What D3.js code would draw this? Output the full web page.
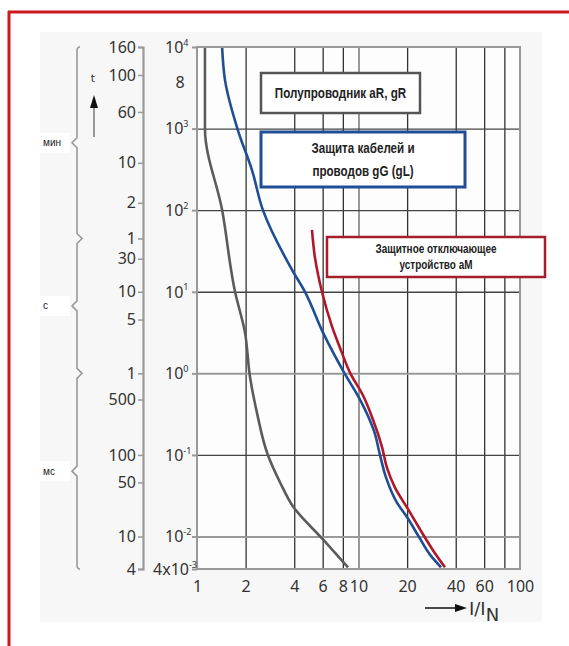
<!DOCTYPE html>
<html>
<head>
<meta charset="utf-8">
<script src="https://cdn.jsdelivr.net/npm/d3@7"></script>
<style>
  body { margin: 0; background: #fff; }
  svg { display: block; }
  .tick text { font-family: "Noto Sans", sans-serif; fill: #333; }
  .legend text { font-family: "Liberation Sans", Arial, sans-serif; font-weight: bold; fill: #222; }
</style>
</head>
<body>
<svg id="chart"></svg>
<script>
// multiples of rated current I/IN
const xTicks = [1, 2, 4, 6, 8, 10, 20, 40, 60, 100];
const xGrid = [2, 4, 6, 8, 10, 20, 40, 60, 80];
const xGridLight = [10];

// time in seconds
const yDecades = [1e3, 1e2, 1e1, 1e0, 1e-1, 1e-2];
const yGridLight = [1e0, 1e-2];
const yLabelExp = [4, 3, 2, 1, 0, -1, -2];

// outer time scale: label and position (in seconds) as printed
const timeLabels = ["160", "100", "60", "10", "2", "1", "30", "10", "5", "1", "500", "100", "50", "10", "4"];
const timeValues = [10000, 4540, 1600, 380, 123, 45, 25.4, 10, 4.56, 1, 0.478, 0.1, 0.046, 0.01, 0.004];

// unit groups on the brace
const unitNames = ["мин", "с", "мс"];
const unitFrom = [10000, 45, 1];
const unitTo = [45, 1, 0.004];

// curves [I/IN, t in s]
const semiconductor = [
  [1.12, 10000], [1.12, 1000], [1.43, 101], [1.72, 10], [1.98, 3.2], [2.13, 0.9],
  [2.35, 0.33], [2.75, 0.099], [3.27, 0.046], [3.93, 0.0234], [6.03, 0.0092], [8.61, 0.0042]
];
const cableGG = [
  [1.43, 10000], [1.49, 3950], [1.79, 960], [2.19, 310], [2.56, 100], [3.87, 18.7],
  [4.66, 10], [6.03, 3.16], [8.2, 1.0], [10.2, 0.48], [12.5, 0.194], [13.6, 0.099],
  [14.8, 0.053], [17.3, 0.026], [20, 0.0172], [23.6, 0.01], [27.7, 0.006], [32.4, 0.0042]
];
const motorAM = [
  [5.15, 57.5], [5.38, 26], [5.94, 10], [6.86, 3.74], [7.8, 1.9], [8.9, 1.0],
  [10.6, 0.55], [12.3, 0.27], [14.0, 0.124], [15.0, 0.07], [16.8, 0.04], [20.3, 0.0215],
  [24.7, 0.0112], [28.9, 0.0068], [34.3, 0.0042]
];

const series = [
  { name: "Полупроводник aR, gR", color: "#5b5b5b", values: semiconductor },
  { name: "Защита кабелей и проводов gG (gL)", color: "#1f4e96", values: cableGG },
  { name: "Защитное отключающее устройство aM", color: "#b0182a", values: motorAM }
];

const W = 569, H = 646;
const svg = d3.select("#chart").attr("width", W).attr("height", H);

const x = d3.scaleLog().domain([1, 100]).range([197, 520]);
const y = d3.scaleLog().domain([0.004, 10000]).range([569, 47]);
const [x0, x1] = x.range();
const [y0, y1] = y.range();

// page decoration
svg.append("rect").attr("x", 40).attr("y", 32).attr("width", 502).attr("height", 590).attr("fill", "#f7f7f7");
svg.append("line").attr("x1", 8).attr("x2", W).attr("y1", 12).attr("y2", 12).attr("stroke", "#d0161f").attr("stroke-width", 3);
svg.append("line").attr("x1", 9).attr("x2", 9).attr("y1", 11).attr("y2", H).attr("stroke", "#d0161f").attr("stroke-width", 3);

svg.append("rect").attr("x", x0).attr("y", y1).attr("width", x1 - x0).attr("height", y0 - y1).attr("fill", "#fdfdfd");

// gridlines
const gx = svg.append("g")
  .attr("transform", `translate(0,${y0})`)
  .call(d3.axisBottom(x).tickValues(xGrid).tickSize(-(y0 - y1)).tickFormat(""));
gx.select(".domain").remove();
gx.selectAll(".tick line")
  .attr("stroke", d => xGridLight.includes(d) ? "#9a9a9a" : "#333")
  .attr("stroke-width", d => xGridLight.includes(d) ? 2 : 1.3);

const gy = svg.append("g")
  .attr("transform", `translate(${x0},0)`)
  .call(d3.axisLeft(y).tickValues(yDecades).tickSize(-(x1 - x0)).tickFormat(""));
gy.select(".domain").remove();
gy.selectAll(".tick line")
  .attr("stroke", d => yGridLight.includes(d) ? "#9a9a9a" : "#444")
  .attr("stroke-width", d => yGridLight.includes(d) ? 2 : 1.3);

// curves
const line = d3.line()
  .x(d => x(d[0]))
  .y(d => y(d[1]))
  .curve(d3.curveMonotoneY);

series.forEach(s => {
  svg.append("path")
    .datum(s.values)
    .attr("d", line)
    .attr("fill", "none")
    .attr("stroke", s.color)
    .attr("stroke-width", 2.6);
});

// plot frame
svg.append("rect").attr("x", x0).attr("y", y1).attr("width", x1 - x0).attr("height", y0 - y1)
  .attr("fill", "none").attr("stroke", "#999").attr("stroke-width", 2);

// bottom axis labels
const ax = svg.append("g")
  .attr("transform", `translate(0,${y0})`)
  .call(d3.axisBottom(x).tickValues(xTicks).tickSize(0).tickPadding(12).tickFormat(d3.format("d")));
ax.select(".domain").remove();
ax.selectAll("text").style("font-size", "16px");

// inner decade axis (ticks on the frame)
const ay = svg.append("g")
  .attr("transform", `translate(${x0},0)`)
  .call(d3.axisLeft(y).tickValues(yLabelExp.map(e => Math.pow(10, e)).concat([0.004])).tickSize(5).tickFormat(""));
ay.select(".domain").remove();
ay.selectAll(".tick line").attr("stroke", "#999").attr("stroke-width", 2);

const decLabels = svg.append("g").attr("class", "tick");
yLabelExp.forEach(e => {
  const t = decLabels.append("text")
    .attr("x", 165).attr("y", y(Math.pow(10, e)))
    .attr("dy", "0.36em")
    .style("font-size", "16px");
  t.append("tspan").text("10");
  t.append("tspan").attr("dy", "-0.8em").style("font-size", "9px").text(e);
});
const small = decLabels.append("text")
  .attr("x", 197).attr("y", y(0.004)).attr("dy", "0.36em")
  .attr("text-anchor", "end").style("font-size", "16px");
small.append("tspan").text("4x10");
small.append("tspan").attr("dy", "-0.8em").style("font-size", "9px").text("-3");
decLabels.append("text")
  .attr("x", 180).attr("y", y(3730)).attr("dy", "0.36em")
  .attr("text-anchor", "middle").style("font-size", "16px").text("8");

// outer time axis
const at = svg.append("g")
  .attr("transform", "translate(143,0)")
  .call(d3.axisLeft(y).tickValues(timeValues).tickSize(5).tickPadding(2)
    .tickFormat((d, i) => timeLabels[i]));
at.select(".domain").attr("stroke", "#999").attr("stroke-width", 2.2);
at.selectAll(".tick line").attr("stroke", "#999").attr("stroke-width", 1.5);
at.selectAll("text").style("font-size", "16px");

// braces with unit names
const bx = 77;
let brace = `M${bx + 3},${y(unitFrom[0])} Q${bx},${y(unitFrom[0])} ${bx},${y(unitFrom[0]) + 4}`;
unitNames.forEach((u, i) => {
  const b = y(unitTo[i]);
  const m = y(Math.sqrt(unitFrom[i] * unitTo[i]));
  brace += ` L${bx},${m - 5} L${bx - 5},${m} L${bx},${m + 5}`;
  if (i < unitNames.length - 1) brace += ` L${bx},${b - 5} L${bx + 5},${b} L${bx},${b + 5}`;
  else brace += ` L${bx},${b - 4} Q${bx},${b} ${bx + 3},${b}`;
  svg.append("rect").attr("x", 40).attr("y", m - 10).attr("width", 30).attr("height", 20).attr("fill", "#fff");
  svg.append("text").attr("x", 43).attr("y", m).attr("dy", "0.35em")
    .style("font-family", "'Liberation Sans', Arial, sans-serif").style("font-size", "10px").attr("fill", "#222")
    .text(u);
});
svg.append("path").attr("d", brace).attr("fill", "none").attr("stroke", "#999").attr("stroke-width", 1.6);

// t arrow
svg.append("text").attr("x", 93).attr("y", 82).attr("text-anchor", "middle")
  .style("font-family", "'DejaVu Sans', sans-serif").style("font-size", "11px").attr("fill", "#333").text("t");
svg.append("line").attr("x1", 94).attr("x2", 94).attr("y1", 137).attr("y2", 104).attr("stroke", "#999").attr("stroke-width", 2);
svg.append("path").attr("d", "M94,95 L90,108 L98,108 Z").attr("fill", "#111");

// I/IN arrow
svg.append("line").attr("x1", 425).attr("x2", 458).attr("y1", 608).attr("y2", 608).attr("stroke", "#111").attr("stroke-width", 1.5);
svg.append("path").attr("d", "M467,608 L455,604 L455,612 Z").attr("fill", "#111");
const il = svg.append("text").attr("x", 469).attr("y", 615)
  .style("font-family", "'DejaVu Sans', sans-serif").style("font-size", "18px").attr("fill", "#333");
il.append("tspan").text("I/I");
il.append("tspan").attr("dy", "6").text("N");

// legend boxes
const boxes = [
  { x: 261, y: 73, w: 159, h: 40, stroke: "#555", sw: 2.5, fs: 14, gap: 0, lines: ["Полупроводник aR, gR"] },
  { x: 261, y: 132, w: 204, h: 55, stroke: "#1f4e96", sw: 3, fs: 14, gap: 23, lines: ["Защита кабелей и", "проводов gG (gL)"] },
  { x: 327, y: 237, w: 218, h: 40, stroke: "#a31f2b", sw: 2.5, fs: 12, gap: 16, lines: ["Защитное отключающее", "устройство aM"] }
];
const legend = svg.append("g").attr("class", "legend");
boxes.forEach(b => {
  legend.append("rect").attr("x", b.x).attr("y", b.y).attr("width", b.w).attr("height", b.h)
    .attr("fill", "#fff").attr("stroke", b.stroke).attr("stroke-width", b.sw);
  b.lines.forEach((l, i) => {
    const cy = b.y + b.h / 2 + (i - (b.lines.length - 1) / 2) * b.gap;
    legend.append("text")
      .attr("transform", `translate(${b.x + b.w / 2},${cy}) scale(0.83,1)`)
      .attr("dy", "0.35em")
      .attr("text-anchor", "middle")
      .style("font-size", b.fs + "px")
      .text(l);
  });
});
</script>
</body>
</html>
